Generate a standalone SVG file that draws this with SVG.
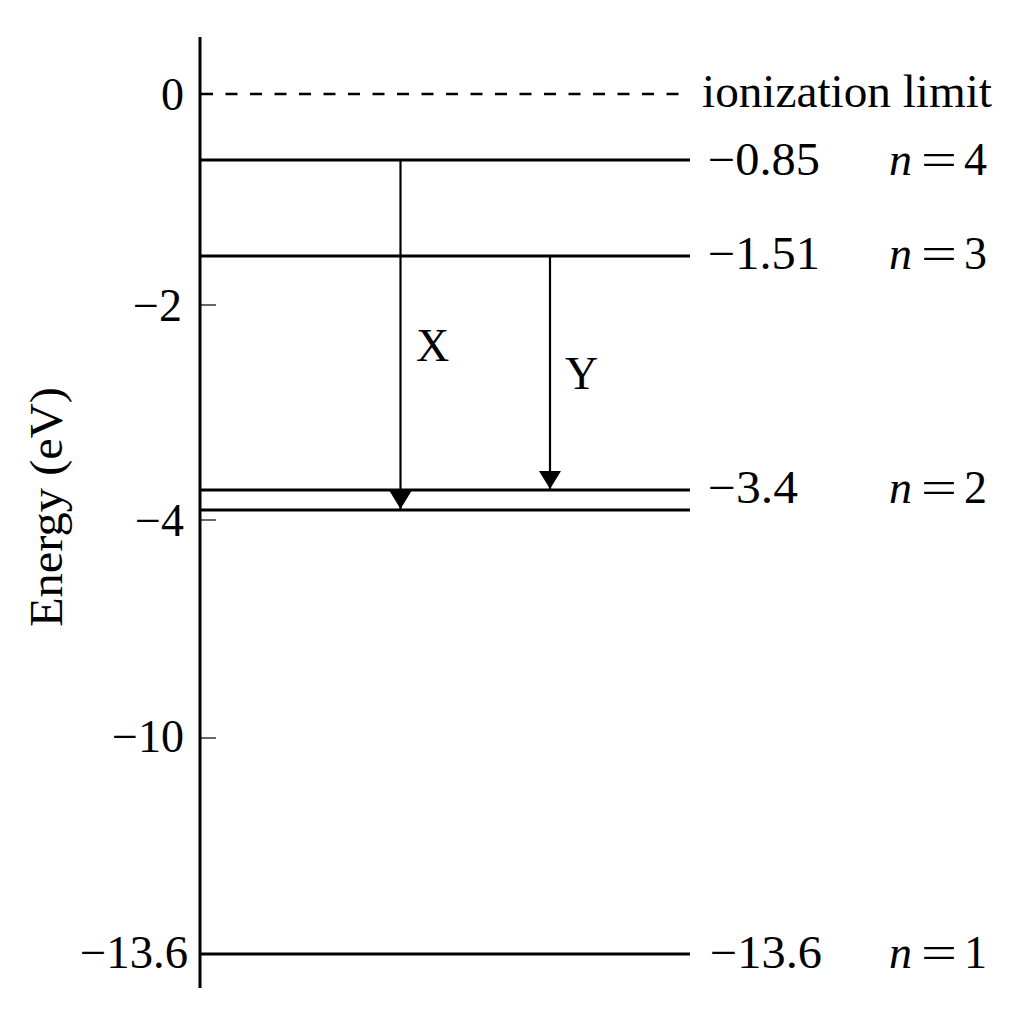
<svg xmlns="http://www.w3.org/2000/svg" width="1024" height="1024" viewBox="0 0 1024 1024">
<style>
  text { font-family: "Liberation Serif", "Times New Roman", serif; font-size: 46px; fill: #000; }
  .lvl { stroke: #000; stroke-width: 3; fill: none; }
  .tick { stroke: #000; stroke-width: 1.2; }
  .arr { stroke: #000; stroke-width: 2.2; fill: none; marker-end: url(#ah); }
  .it { font-style: italic; }
</style>
<defs>
  <marker id="ah" markerUnits="userSpaceOnUse" viewBox="0 0 18 22" refX="18" refY="11" markerWidth="18" markerHeight="22" orient="auto">
    <path d="M0,0 L18,11 L0,22 Z" fill="#000"/>
  </marker>
</defs>
<rect width="1024" height="1024" fill="#fff"/>

<g id="axis">
  <line x1="200" y1="37" x2="200" y2="988" stroke="#000" stroke-width="3"/>
  <line class="tick" x1="200" y1="305" x2="216" y2="305"/>
  <line class="tick" x1="200" y1="520" x2="216" y2="520"/>
  <line class="tick" x1="200" y1="738" x2="216" y2="738"/>
  <text x="184" y="110" text-anchor="end">0</text>
  <text x="182" y="321" text-anchor="end">−2</text>
  <text x="184" y="536" text-anchor="end">−4</text>
  <text x="184" y="752" text-anchor="end">−10</text>
  <text x="188" y="968" text-anchor="end" textLength="108" lengthAdjust="spacingAndGlyphs">−13.6</text>
  <text transform="translate(62,627) rotate(-90)" textLength="240" lengthAdjust="spacingAndGlyphs">Energy (eV)</text>
</g>

<g id="ionization">
  <line x1="201" y1="94" x2="690" y2="94" stroke="#000" stroke-width="2.5" stroke-dasharray="12 12.5"/>
  <text x="702" y="107" textLength="290" lengthAdjust="spacingAndGlyphs">ionization limit</text>
</g>

<g id="n4">
  <line class="lvl" x1="200" y1="160" x2="690" y2="160"/>
  <text x="708" y="175" textLength="112" lengthAdjust="spacingAndGlyphs">−0.85</text>
  <text y="175"><tspan class="it" x="889">n</tspan><tspan x="921" textLength="36" lengthAdjust="spacingAndGlyphs">=</tspan><tspan x="964">4</tspan></text>
</g>

<g id="n3">
  <line class="lvl" x1="200" y1="256" x2="690" y2="256"/>
  <text x="708" y="269" textLength="112" lengthAdjust="spacingAndGlyphs">−1.51</text>
  <text y="269"><tspan class="it" x="889">n</tspan><tspan x="921" textLength="36" lengthAdjust="spacingAndGlyphs">=</tspan><tspan x="964">3</tspan></text>
</g>

<g id="n2">
  <line class="lvl" x1="200" y1="490" x2="690" y2="490"/>
  <line class="lvl" x1="200" y1="510" x2="690" y2="510"/>
  <text x="708" y="503" textLength="90" lengthAdjust="spacingAndGlyphs">−3.4</text>
  <text y="503"><tspan class="it" x="889">n</tspan><tspan x="921" textLength="36" lengthAdjust="spacingAndGlyphs">=</tspan><tspan x="964">2</tspan></text>
</g>

<g id="n1">
  <line class="lvl" x1="200" y1="954" x2="690" y2="954"/>
  <text x="710" y="968" textLength="112" lengthAdjust="spacingAndGlyphs">−13.6</text>
  <text y="968"><tspan class="it" x="889">n</tspan><tspan x="921" textLength="36" lengthAdjust="spacingAndGlyphs">=</tspan><tspan x="964">1</tspan></text>
</g>

<g id="connectors">
  <line class="arr" x1="400.5" y1="160" x2="400.5" y2="509"/>
  <line class="arr" x1="550" y1="256" x2="550" y2="489"/>
  <text x="416" y="361">X</text>
  <text x="565" y="389">Y</text>
</g>
</svg>
